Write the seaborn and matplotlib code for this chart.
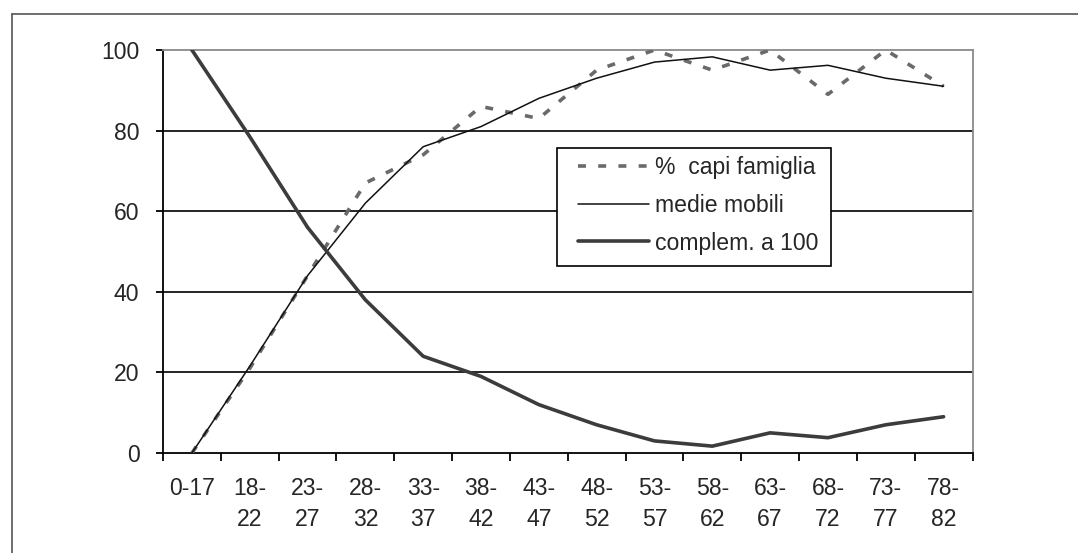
import numpy as np
import pandas as pd
import matplotlib
matplotlib.use("Agg")
import matplotlib.pyplot as plt
from matplotlib.lines import Line2D
from matplotlib.patches import Rectangle
from matplotlib.ticker import FixedLocator, NullFormatter
import seaborn as sns

# Age classes and series (percentages)
categories = ["0-17", "18-22", "23-27", "28-32", "33-37", "38-42", "43-47",
              "48-52", "53-57", "58-62", "63-67", "68-72", "73-77", "78-82"]
tick_labels = ["0-17", "18-\n22", "23-\n27", "28-\n32", "33-\n37", "38-\n42",
               "43-\n47", "48-\n52", "53-\n57", "58-\n62", "63-\n67", "68-\n72",
               "73-\n77", "78-\n82"]
capi_famiglia = [0, 21, 44, 67, 74, 86, 83, 95, 100, 95, 100, 89, 100, 91]
medie_mobili = [0, 21.5, 44, 62, 76, 81, 88, 93, 97, 98.3, 95, 96.2, 93, 91]
complem_100 = [100, 78.5, 56, 38, 24, 19, 12, 7, 3, 1.7, 5, 3.8, 7, 9]

sns.set_theme(style="white")
plt.rcParams["font.family"] = ["Liberation Sans", "DejaVu Sans"]
FS = 16.6
W, H = 1078, 553

df = pd.DataFrame({
    "pos": np.arange(len(categories)),
    "classe": categories,
    "capi": capi_famiglia,
    "medie": medie_mobili,
    "complem": complem_100,
})

fig = plt.figure(figsize=(W / 100, H / 100), dpi=100)
ax = fig.add_axes([163 / W, 1 - 453 / H, (972.5 - 163) / W, (453 - 50) / H])

# Horizontal gridlines
for yv in [20, 40, 60, 80]:
    ax.axhline(yv, color="black", lw=1.2, zorder=1)

dash = (0, (2.2, 3.4))
sns.lineplot(data=df, x="pos", y="capi", ax=ax, color="#6a6a6a", lw=2.6,
             linestyle=dash, dash_capstyle="butt", zorder=3)
sns.lineplot(data=df, x="pos", y="medie", ax=ax, color="#111111", lw=1.1, zorder=4)
sns.lineplot(data=df, x="pos", y="complem", ax=ax, color="#3c3c3c", lw=2.6, zorder=4)

ax.set_xlim(-0.5, len(categories) - 0.5)
ax.set_ylim(0, 100)
ax.set_xlabel("")
ax.set_ylabel("")

# Labels at class centres, tick marks at class boundaries
ax.set_xticks(df["pos"])
ax.set_xticklabels(tick_labels, fontsize=FS, linespacing=1.45, va="top")
ax.xaxis.set_minor_locator(FixedLocator(np.arange(-0.5, len(categories), 1.0)))
ax.xaxis.set_minor_formatter(NullFormatter())
ax.tick_params(axis="x", which="major", length=0, pad=17)
ax.tick_params(axis="x", which="minor", bottom=True, length=6, width=1.3,
               color="black", direction="out")
ax.set_yticks([0, 20, 40, 60, 80, 100])
ax.tick_params(axis="y", left=True, length=5, width=1.3, color="black",
               direction="out", pad=12, labelsize=FS)

for side in ["left", "bottom"]:
    ax.spines[side].set_color("black")
    ax.spines[side].set_linewidth(1.3)
for side in ["top", "right"]:
    ax.spines[side].set_color("#8a8a8a")
    ax.spines[side].set_linewidth(1.3)

# Legend: entries without frame, plus a plain white box behind them
box = Rectangle((557 / W, 1 - 266 / H), (831 - 557) / W, (266 - 148) / H,
                transform=fig.transFigure, facecolor="white", edgecolor="black",
                lw=1.2, zorder=5)
ax.add_artist(box)
box.set_clip_on(False)

handles = [
    Line2D([], [], color="#6a6a6a", lw=2.6, linestyle=dash, dash_capstyle="butt"),
    Line2D([], [], color="#111111", lw=1.1),
    Line2D([], [], color="#3c3c3c", lw=2.6),
]
leg = ax.legend(handles, ["%  capi famiglia", "medie mobili", "complem. a 100"],
                loc="upper left", bbox_to_anchor=(578 / W, 1 - 156 / H),
                bbox_transform=fig.transFigure, borderaxespad=0, fontsize=FS,
                frameon=False, handlelength=3.1, handletextpad=0.22,
                borderpad=0, labelspacing=0.64)
leg.set_zorder(6)

# Outer chart frame
fig.add_artist(Line2D([12 / W, 12 / W], [0, 1 - 14 / H],
                      transform=fig.transFigure, color="#555555", lw=1.2))
fig.add_artist(Line2D([12 / W, 1], [1 - 14 / H, 1 - 14 / H],
                      transform=fig.transFigure, color="#555555", lw=1.2))

fig.savefig("out.png", dpi=100)
